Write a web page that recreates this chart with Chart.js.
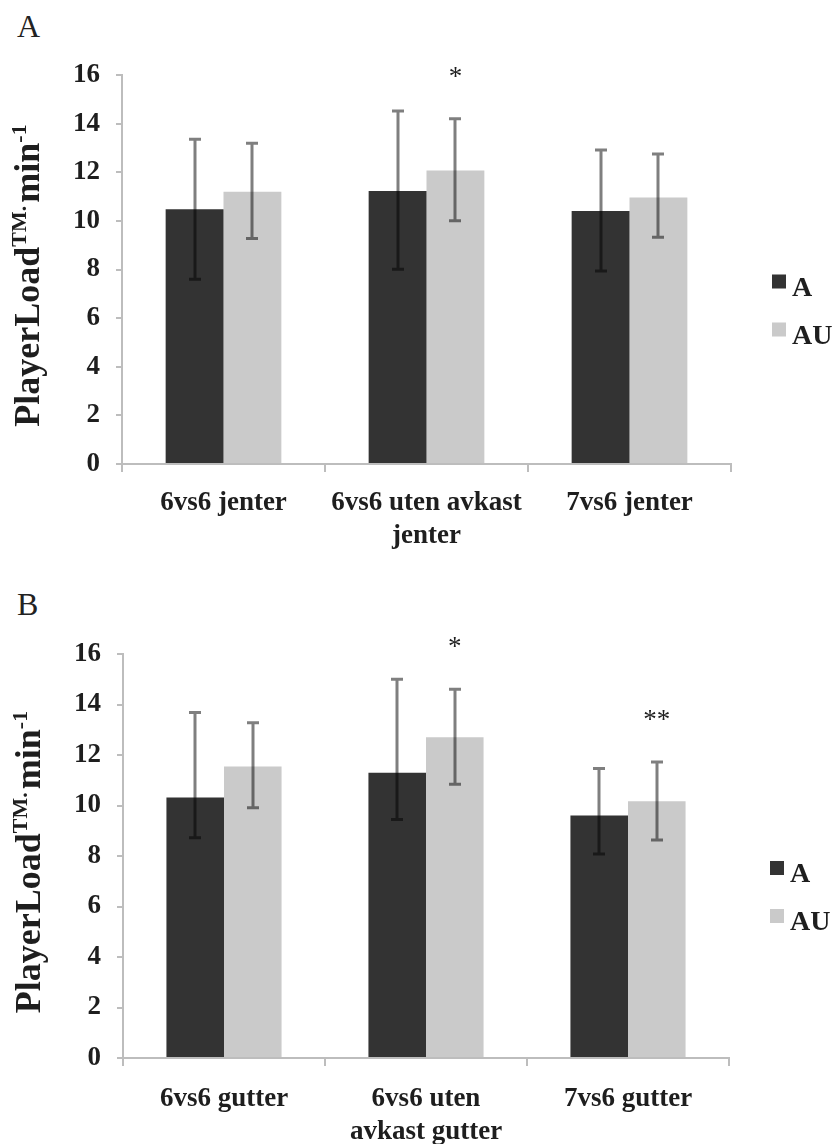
<!DOCTYPE html>
<html>
<head>
<meta charset="utf-8">
<script src="https://cdn.jsdelivr.net/npm/chart.js@4.4.1/dist/chart.umd.min.js"></script>
<style>
  html, body { margin: 0; padding: 0; background: #fff; }
  .panel { position: absolute; left: 0; width: 832px; height: 572px; }
  .tag { position: absolute; left: 17px; font-family: "Liberation Serif", serif; font-size: 32px; color: #222; line-height: 1; }
</style>
</head>
<body>
<div class="tag" style="top:10px">A</div>
<div class="tag" style="top:588px">B</div>
<div class="panel" style="top:0"><canvas id="cA" width="832" height="572"></canvas></div>
<div class="panel" style="top:572px"><canvas id="cB" width="832" height="572"></canvas></div>
<script>
// ---------- data ----------
const seriesNames = ['A', 'AU'];
const yTicks = [0, 2, 4, 6, 8, 10, 12, 14, 16];

const categoriesA = ['6vs6 jenter', ['6vs6 uten avkast', 'jenter'], '7vs6 jenter'];
const meanA_A  = [10.48, 11.23, 10.41];
const upperA_A = [13.36, 14.52, 12.92];
const lowerA_A = [7.60, 8.01, 7.94];
const meanA_AU  = [11.20, 12.07, 10.96];
const upperA_AU = [13.19, 14.20, 12.75];
const lowerA_AU = [9.27, 10.01, 9.33];
const sigA = ['', '*', ''];

const categoriesB = ['6vs6 gutter', ['6vs6 uten', 'avkast gutter'], '7vs6 gutter'];
const meanB_A  = [10.32, 11.30, 9.60];
const upperB_A = [13.68, 15.00, 11.47];
const lowerB_A = [8.72, 9.45, 8.08];
const meanB_AU  = [11.54, 12.70, 10.17];
const upperB_AU = [13.28, 14.60, 11.72];
const lowerB_AU = [9.91, 10.84, 8.63];
const sigB = ['', '*', '**'];

const colorA = '#333333';
const colorAU = '#cacaca';
const axisColor = '#bdbdbd';
const textColor = '#1e1e1e';
const SERIF = '"Liberation Serif", "Times New Roman", serif';

// ---------- plugins ----------
const errorBarPlugin = {
  id: 'errorBars',
  afterDatasetsDraw(chart) {
    const ctx = chart.ctx;
    const y = chart.scales.y;
    ctx.save();
    ctx.strokeStyle = 'rgba(0,0,0,0.5)';
    ctx.lineWidth = 3;
    chart.data.datasets.forEach((ds, di) => {
      const meta = chart.getDatasetMeta(di);
      ctx.beginPath();
      meta.data.forEach((bar, i) => {
        const x = Math.round(bar.x);
        const yt = y.getPixelForValue(ds.upper[i]);
        const yb = y.getPixelForValue(ds.lower[i]);
        ctx.moveTo(x, yt); ctx.lineTo(x, yb);
        ctx.moveTo(x - 6, yt); ctx.lineTo(x + 6, yt);
        ctx.moveTo(x - 6, yb); ctx.lineTo(x + 6, yb);
      });
      ctx.stroke();
    });
    // significance markers above the AU error bars
    const ds = chart.data.datasets[1];
    const meta = chart.getDatasetMeta(1);
    ctx.fillStyle = textColor;
    ctx.font = '27px ' + SERIF;
    ctx.textAlign = 'center';
    ctx.textBaseline = 'alphabetic';
    chart.options.plugins.errorBars.sig.forEach((s, i) => {
      if (!s) return;
      const x = meta.data[i].x;
      const yt = y.getPixelForValue(ds.upper[i]);
      ctx.fillText(s, x, yt - 47 + 13);
    });
    ctx.restore();
  }
};

const yTitlePlugin = {
  id: 'yTitle',
  afterDraw(chart) {
    const ctx = chart.ctx;
    const a = chart.chartArea;
    const pieces = [
      { t: 'PlayerLoad', sup: false },
      { t: 'TM', sup: true },
      { t: '.', sup: true },
      { t: 'min', sup: false },
      { t: '-1', sup: true }
    ];
    const big = 'bold 36px ' + SERIF;
    const small = 'bold 22px ' + SERIF;
    ctx.save();
    let total = 0;
    pieces.forEach(p => { ctx.font = p.sup ? small : big; p.w = ctx.measureText(p.t).width + (p.t === '.' ? 3 : 0); total += p.w; });
    ctx.translate(a.left - 83, (a.top + a.bottom) / 2 + 6);
    ctx.rotate(-Math.PI / 2);
    ctx.fillStyle = textColor;
    ctx.textBaseline = 'alphabetic';
    ctx.textAlign = 'left';
    let x = -total / 2;
    pieces.forEach(p => {
      ctx.font = p.sup ? small : big;
      ctx.fillText(p.t, x, p.sup ? -13 : 0);
      x += p.w;
    });
    ctx.restore();
  }
};

const legendPlugin = {
  id: 'sideLegend',
  afterDraw(chart) {
    const ctx = chart.ctx;
    const a = chart.chartArea;
    const mid = (a.top + a.bottom) / 2;
    ctx.save();
    ctx.font = 'bold 28px ' + SERIF;
    ctx.textBaseline = 'alphabetic';
    ctx.textAlign = 'left';
    chart.data.datasets.forEach((ds, i) => {
      const top = mid + 5 + i * 48;
      const left = a.right + 41;
      ctx.fillStyle = ds.backgroundColor;
      ctx.fillRect(left, top, 14, 14);
      ctx.fillStyle = textColor;
      ctx.fillText(ds.label, left + 20, top + 21);
    });
    ctx.restore();
  }
};

function makeChart(id, cats, mA, uA, lA, mAU, uAU, lAU, sig, area, pad) {
  return new Chart(document.getElementById(id), {
    type: 'bar',
    data: {
      labels: cats,
      datasets: [
        { label: seriesNames[0], data: mA, upper: uA, lower: lA, backgroundColor: colorA,
          categoryPercentage: 0.57, barPercentage: 1.0 },
        { label: seriesNames[1], data: mAU, upper: uAU, lower: lAU, backgroundColor: colorAU,
          categoryPercentage: 0.57, barPercentage: 1.0 }
      ]
    },
    options: {
      responsive: false,
      animation: false,
      events: [],
      layout: { padding: { left: 0, top: area.top, right: 832 - area.right, bottom: 572 - area.bottom - 86 } },
      plugins: {
        legend: { display: false },
        tooltip: { enabled: false },
        errorBars: { sig: sig }
      },
      scales: {
        x: {
          grid: { display: true, drawOnChartArea: false, offset: true, tickLength: 8, color: axisColor, lineWidth: 2 },
          border: { color: axisColor, width: 2 },
          ticks: { color: textColor, font: { family: SERIF, size: 27, weight: 'bold', lineHeight: 1.22 },
                   padding: pad, maxRotation: 0, autoSkip: false },
          afterFit(s) { s.height = 86; }
        },
        y: {
          min: 0, max: 16,
          afterBuildTicks(s) { s.ticks = yTicks.map(v => ({ value: v })); },
          grid: { display: true, drawOnChartArea: false, tickLength: 6, color: axisColor, lineWidth: 2 },
          border: { color: axisColor, width: 2 },
          ticks: { color: textColor, font: { family: SERIF, size: 27, weight: 'bold' }, padding: 16 },
          afterFit(s) { s.width = area.left; }
        }
      }
    },
    plugins: [errorBarPlugin, yTitlePlugin, legendPlugin]
  });
}

makeChart('cA', categoriesA, meanA_A, upperA_A, lowerA_A, meanA_AU, upperA_AU, lowerA_AU, sigA,
  { left: 122, right: 731, top: 75, bottom: 464 }, 15);
makeChart('cB', categoriesB, meanB_A, upperB_A, lowerB_A, meanB_AU, upperB_AU, lowerB_AU, sigB,
  { left: 123, right: 729, top: 82, bottom: 486 }, 17);
</script>
</body>
</html>
